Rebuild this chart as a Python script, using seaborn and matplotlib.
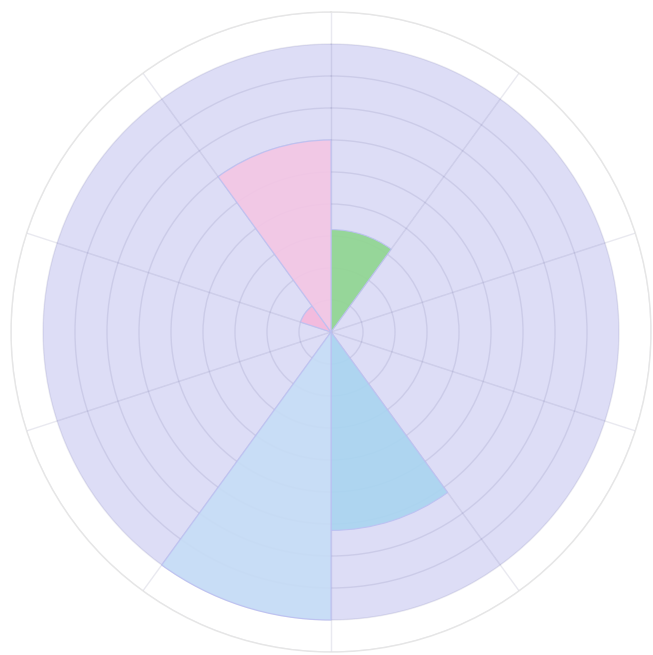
import numpy as np
import matplotlib
matplotlib.use("Agg")
import matplotlib.pyplot as plt
import seaborn as sns

# ---- data ----
categories = ["C1", "C2", "C3", "C4", "C5", "C6", "C7", "C8", "C9", "C10"]
background_values = [9, 9, 9, 9, 9, 9, 9, 9, 9, 9]
series_values = [3.2, 0, 0, 0, 6.2, 9, 0, 0, 1.0, 6.0]
series_colors = ["#8fd68f", "#ffffff", "#ffffff", "#ffffff", "#a9d5f0",
                 "#c6ddf6", "#ffffff", "#ffffff", "#f5b8dc", "#f4c6e4"]
radial_ticks = [1, 2, 3, 4, 5, 6, 7, 8, 9, 10]

sns.set_theme(style="white")

fig = plt.figure(figsize=(6.53, 6.55), dpi=100)
ax = fig.add_axes([11 / 653, 3 / 655, 640 / 653, 640 / 655], projection="polar")
ax.set_theta_zero_location("N")
ax.set_theta_direction(-1)

n = len(categories)
width = 2 * np.pi / n
theta = np.arange(n) * width

ax.bar(theta, background_values, width=width, align="edge",
       color="#c8c8f2", alpha=0.62, edgecolor="none", zorder=0.2)

mask = [v > 0 for v in series_values]
ax.bar(theta[mask], np.array(series_values)[mask], width=width, align="edge",
       color=[c for c, m in zip(series_colors, mask) if m], alpha=0.9,
       edgecolor="#bcc0f2", linewidth=0.8, zorder=2)

ax.set_ylim(0, 10)
ax.set_yticks(radial_ticks)
ax.set_xticks(theta)
ax.set_xticklabels([])
ax.set_yticklabels([])
ax.set_axisbelow(True)
ax.grid(True, color="#303070", alpha=0.1, linewidth=1.0)
ax.spines["polar"].set_color("#e6e6e6")
ax.spines["polar"].set_linewidth(1.0)

fig.savefig("out.png", dpi=100)
